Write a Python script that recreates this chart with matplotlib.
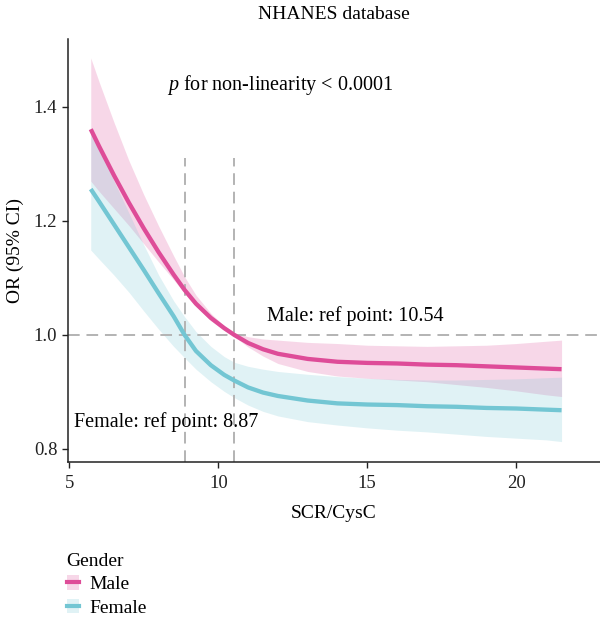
import matplotlib
matplotlib.use("Agg")
import matplotlib.pyplot as plt
from matplotlib.patches import Patch
from matplotlib.lines import Line2D

plt.rcParams['font.family'] = ['Liberation Serif', 'DejaVu Serif']
plt.rcParams['mathtext.fontset'] = 'custom'
plt.rcParams['mathtext.rm'] = 'Liberation Serif'
plt.rcParams['mathtext.it'] = 'Liberation Serif:italic'

# SCR/CysC grid
scr = [5.72, 6.0, 6.5, 7.0, 7.5, 8.0, 8.5, 8.87, 9.25, 9.75, 10.2, 10.54, 11.0,
       11.5, 12.0, 13.0, 14.0, 15.0, 16.0, 17.0, 18.0, 19.0, 20.0, 21.0, 21.52]

male_or = [1.361, 1.331, 1.280, 1.232, 1.187, 1.145, 1.106, 1.079, 1.055, 1.030,
           1.012, 1.000, 0.986, 0.975, 0.967, 0.958, 0.953, 0.951, 0.950, 0.948,
           0.947, 0.945, 0.943, 0.941, 0.940]
male_hi = [1.486, 1.444, 1.373, 1.306, 1.246, 1.191, 1.139, 1.102, 1.070, 1.038,
           1.016, 1.004, 0.997, 0.993, 0.991, 0.987, 0.985, 0.982, 0.981, 0.980,
           0.981, 0.982, 0.985, 0.989, 0.991]
male_lo = [1.270, 1.252, 1.222, 1.192, 1.160, 1.128, 1.097, 1.073, 1.050, 1.025,
           1.008, 0.997, 0.979, 0.963, 0.950, 0.936, 0.928, 0.924, 0.921, 0.918,
           0.913, 0.908, 0.902, 0.895, 0.892]

female_or = [1.256, 1.234, 1.194, 1.154, 1.114, 1.073, 1.033, 1.000, 0.972, 0.947,
             0.930, 0.920, 0.908, 0.899, 0.893, 0.885, 0.880, 0.878, 0.877, 0.875,
             0.874, 0.872, 0.871, 0.869, 0.868]
female_hi = [1.360, 1.327, 1.270, 1.214, 1.158, 1.105, 1.060, 1.032, 1.006, 0.980,
             0.962, 0.952, 0.945, 0.940, 0.936, 0.931, 0.927, 0.924, 0.922, 0.921,
             0.921, 0.922, 0.923, 0.925, 0.926]
female_lo = [1.149, 1.133, 1.105, 1.075, 1.042, 1.010, 0.980, 0.960, 0.940, 0.918,
             0.901, 0.890, 0.877, 0.866, 0.858, 0.848, 0.842, 0.837, 0.833, 0.830,
             0.826, 0.822, 0.819, 0.816, 0.813]

ref_points = [8.87, 10.54]
male_color = "#DE4C98"
female_color = "#73C6D3"
dash_color = "#B3B3B3"

fig = plt.figure(figsize=(6, 6.22), dpi=100)
ax = fig.add_axes([0.113, 0.258, 0.887, 0.680])

ax.fill_between(scr, male_lo, male_hi, color=male_color, alpha=0.22, lw=0)
ax.fill_between(scr, female_lo, female_hi, color=female_color, alpha=0.22, lw=0)

ax.axhline(1.0, color=dash_color, lw=1.4, dashes=(6, 3.5))
ax.vlines(ref_points, 0.778, 1.31, color=dash_color, lw=1.4, linestyles=(0, (6, 3.5)))

ax.plot(scr, female_or, color=female_color, lw=3.1, solid_capstyle='butt', solid_joinstyle='round')
ax.plot(scr, male_or, color=male_color, lw=3.1, solid_capstyle='butt', solid_joinstyle='round')

ax.set_xlim(4.95, 22.81)
ax.set_ylim(0.778, 1.52)
ax.set_xticks([5, 10, 15, 20])
ax.set_yticks([0.8, 1.0, 1.2, 1.4])
ax.set_yticklabels(["0.8", "1.0", "1.2", "1.4"])
ax.tick_params(labelsize=13.5, length=4, width=1, colors="#222222")
ax.tick_params(axis="x", pad=6)
for s in ["top", "right"]:
    ax.spines[s].set_visible(False)
for s in ["left", "bottom"]:
    ax.spines[s].set_linewidth(1.1)
    ax.spines[s].set_color("#222222")

ax.set_xlabel("SCR/CysC", fontsize=14, labelpad=9)
ax.set_ylabel("OR (95% CI)", fontsize=14, labelpad=7)
ax.set_title("NHANES database", fontsize=14, pad=14)

ax.text(8.28, 1.439, r"$p$ for non-linearity < 0.0001", fontsize=14.5, va="center")
ax.text(11.65, 1.034, "Male: ref point: 10.54", fontsize=14.5, va="center")
ax.text(5.17, 0.847, "Female: ref point: 8.87", fontsize=14.5, va="center")

handles = [
    (Patch(facecolor=male_color, alpha=0.22, lw=0), Line2D([], [], color=male_color, lw=3)),
    (Patch(facecolor=female_color, alpha=0.22, lw=0), Line2D([], [], color=female_color, lw=3)),
]
fig.legend(handles, ["Male", "Female"], title="Gender", loc="upper left",
           bbox_to_anchor=(0.098, 0.124), frameon=False, fontsize=14,
           title_fontsize=14, handlelength=0.65, handleheight=0.75,
           handletextpad=0.5, labelspacing=0.3, borderaxespad=0,
           alignment="left")

fig.savefig("out.png", dpi=100)
